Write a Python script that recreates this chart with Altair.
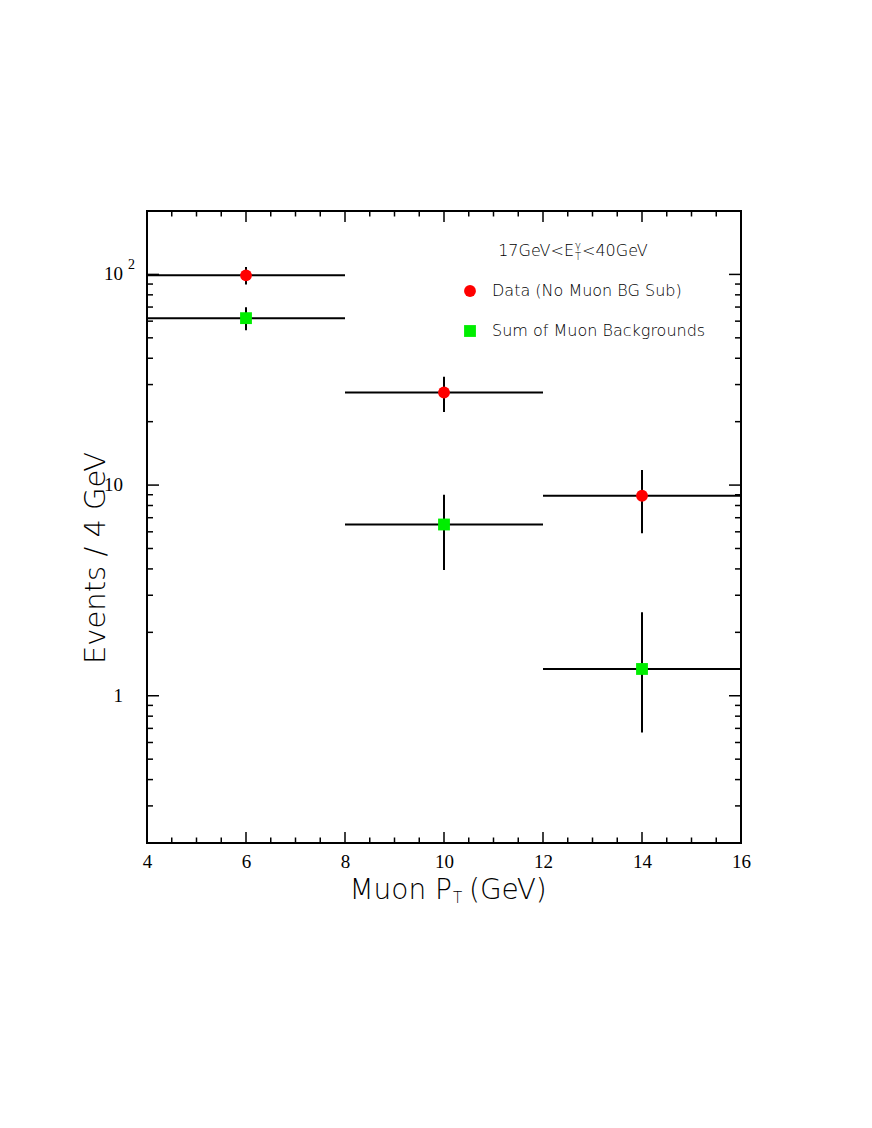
import altair as alt
import pandas as pd

# ---------------- data ----------------
series_names = ["Data (No Muon BG Sub)", "Sum of Muon Backgrounds"]
series_colors = ["#ff0000", "#00ee00"]
series_shapes = ["circle", "square"]

bin_center = [6, 10, 14]
bin_low = [4, 8, 12]
bin_high = [8, 12, 16]

data_val = [99, 27.5, 8.9]
data_lo = [89.5, 22.2, 5.9]
data_hi = [108.5, 32.7, 11.8]

bg_val = [62, 6.5, 1.34]
bg_lo = [54.3, 3.95, 0.67]
bg_hi = [69.8, 9.0, 2.49]

x_major = [4, 6, 8, 10, 12, 14, 16]
x_minor = [4.5, 5, 5.5, 6.5, 7, 7.5, 8.5, 9, 9.5, 10.5, 11, 11.5,
           12.5, 13, 13.5, 14.5, 15, 15.5]
y_major = [1, 10, 100]
y_major_text = ["1", "10", "10"]
y_sup_value = [100]
y_sup_text = ["2"]
y_minor = [0.2, 0.3, 0.4, 0.5, 0.6, 0.7, 0.8, 0.9,
           2, 3, 4, 5, 6, 7, 8, 9,
           20, 30, 40, 50, 60, 70, 80, 90, 200]

x_title_parts = ["Muon P", "T", "(GeV)"]
y_title = ["Events / 4 GeV"]
header_parts = ["17GeV<E", "T", "\u03b3", "<40GeV"]

# ---------------- tables ----------------
rows = []
for name, vals, los, his in [(series_names[0], data_val, data_lo, data_hi),
                             (series_names[1], bg_val, bg_lo, bg_hi)]:
    for c, l, h, v, lo, hi in zip(bin_center, bin_low, bin_high, vals, los, his):
        rows.append({"series": name, "x": c, "xlo": l, "xhi": h,
                     "y": v, "ylo": lo, "yhi": hi})
df = pd.DataFrame(rows)

W, H = 594, 632
SANS = "DejaVu Sans"
SERIF = "Liberation Serif"
TW = 200  # light weight for the titles

xs = alt.Scale(domain=[4, 16], nice=False, zero=False)
ys = alt.Scale(type="log", domain=[0.2, 200], nice=False)
xaxis = alt.Axis(values=x_major, ticks=False, domain=False, grid=False,
                 labelFont=SERIF, labelFontSize=19, labelPadding=9,
                 labelColor="black", title=None, format="d", labelFlush=False)


def xenc(f):
    return alt.X(f, type="quantitative", scale=xs, axis=xaxis)


def yenc(f):
    return alt.Y(f, type="quantitative", scale=ys, axis=None)


base = alt.Chart(df)

hbars = base.mark_rule(color="black", strokeWidth=2).encode(
    x=xenc("xlo"), x2="xhi", y=yenc("y"))
vbars = base.mark_rule(color="black", strokeWidth=2).encode(
    x=xenc("x"), y=yenc("ylo"), y2="yhi")

leg = alt.Legend(title=None, orient="none", legendX=315, legendY=72,
                 labelFont=SANS, labelFontSize=16, labelColor="black",
                 labelFontWeight=TW, labelLimit=0,
                 symbolSize=140, rowPadding=24, labelOffset=14, padding=0,
                 symbolStrokeWidth=0, symbolOpacity=1)
points = base.mark_point(filled=True, opacity=1, size=140).encode(
    x=xenc("x"), y=yenc("y"),
    color=alt.Color("series:N", scale=alt.Scale(domain=series_names, range=series_colors), legend=leg),
    shape=alt.Shape("series:N", scale=alt.Scale(domain=series_names, range=series_shapes), legend=leg),
)

ymaj = alt.Chart(pd.DataFrame({"v": y_major, "t": y_major_text}))
ymin = alt.Chart(pd.DataFrame({"v": y_minor}))
xmaj = alt.Chart(pd.DataFrame({"v": x_major}))
xmin = alt.Chart(pd.DataFrame({"v": x_minor}))

tk = dict(color="black", strokeWidth=1.5)
ticks = [
    ymaj.mark_rule(**tk).encode(y=yenc("v"), x=alt.value(0), x2=alt.value(12)),
    ymaj.mark_rule(**tk).encode(y=yenc("v"), x=alt.value(W), x2=alt.value(W - 12)),
    ymin.mark_rule(**tk).encode(y=yenc("v"), x=alt.value(0), x2=alt.value(6)),
    ymin.mark_rule(**tk).encode(y=yenc("v"), x=alt.value(W), x2=alt.value(W - 6)),
    xmaj.mark_rule(**tk).encode(x=xenc("v"), y=alt.value(H), y2=alt.value(H - 11)),
    xmaj.mark_rule(**tk).encode(x=xenc("v"), y=alt.value(0), y2=alt.value(11)),
    xmin.mark_rule(**tk).encode(x=xenc("v"), y=alt.value(H), y2=alt.value(H - 5.5)),
    xmin.mark_rule(**tk).encode(x=xenc("v"), y=alt.value(0), y2=alt.value(5.5)),
]

ylabels = ymaj.mark_text(align="right", baseline="middle", font=SERIF,
                         fontSize=19, color="black").encode(
    y=yenc("v"), x=alt.value(-24), text="t:N")
ysup = alt.Chart(pd.DataFrame({"v": y_sup_value, "t": y_sup_text})).mark_text(
    align="left", baseline="middle", font=SERIF, fontSize=14, dy=-9,
    color="black").encode(y=yenc("v"), x=alt.value(-19), text="t:N")


def txt(s, x, y, align="left", size=16, angle=0, baseline="alphabetic"):
    return alt.Chart(pd.DataFrame({"t": [s]})).mark_text(
        align=align, baseline=baseline, font=SANS, fontSize=size,
        fontWeight=TW, angle=angle, color="black").encode(
        x=alt.value(x), y=alt.value(y), text="t:N")


texts = [
    # header
    txt(header_parts[0], 427, 45, align="right", size=16),
    txt(header_parts[1], 428, 49, size=10),
    txt(header_parts[2], 428, 38, size=10),
    txt(header_parts[3], 435, 45, size=16),
    # x title
    txt(x_title_parts[0], 305, 688, align="right", size=28),
    txt(x_title_parts[1], 306, 692, size=15),
    txt(x_title_parts[2], 322, 688, size=28),
    # y title
    txt(y_title[0], -51, 347, align="center", size=29, angle=270, baseline="middle"),
]

chart = alt.layer(hbars, vbars, *ticks, points, ylabels, ysup, *texts).properties(
    width=W, height=H, autosize="none", background="white",
    padding={"left": 139, "top": 203, "right": 20, "bottom": 140},
).configure_view(stroke="black", strokeWidth=2)

chart.save("out.html", embed_options={"renderer": "svg", "actions": False})
